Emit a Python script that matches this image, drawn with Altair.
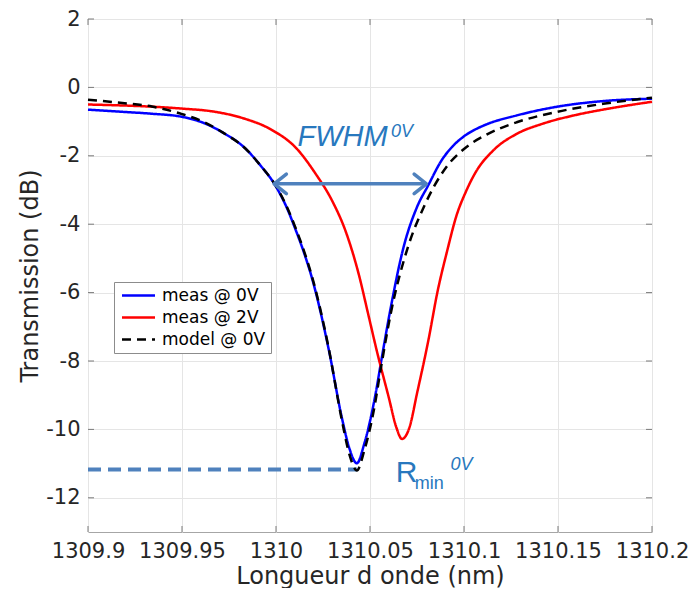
import altair as alt
import pandas as pd

# ---- data ----
blue_x = [1309.900, 1309.917, 1309.934, 1309.950, 1309.962, 1309.972, 1309.983, 1309.992,
          1309.999, 1310.006, 1310.010, 1310.015, 1310.019, 1310.028, 1310.035, 1310.039,
          1310.043, 1310.047, 1310.053, 1310.056, 1310.061, 1310.068, 1310.075, 1310.081,
          1310.088, 1310.094, 1310.100, 1310.106, 1310.112, 1310.128, 1310.149, 1310.174,
          1310.200]
blue_y = [-0.65, -0.71, -0.77, -0.86, -1.05, -1.33, -1.75, -2.30,
          -2.81, -3.55, -4.10, -4.85, -5.55, -7.65, -9.65, -10.55,
          -10.99, -10.41, -8.95, -7.99, -6.45, -4.64, -3.50, -2.86,
          -2.14, -1.72, -1.43, -1.23, -1.08, -0.82, -0.57, -0.40,
          -0.33]

red_x = [1309.900, 1309.950, 1309.966, 1309.983, 1309.997, 1310.011, 1310.021, 1310.030,
         1310.037, 1310.044, 1310.049, 1310.054, 1310.060, 1310.064, 1310.067, 1310.071,
         1310.075, 1310.081, 1310.086, 1310.091, 1310.096, 1310.101, 1310.106, 1310.116,
         1310.128, 1310.142, 1310.160, 1310.177, 1310.200]
red_y = [-0.50, -0.62, -0.70, -0.91, -1.22, -1.79, -2.52, -3.33,
         -4.20, -5.46, -6.62, -7.79, -9.07, -9.94, -10.28, -9.94,
         -8.95, -7.41, -5.95, -4.79, -3.75, -3.05, -2.50, -1.82,
         -1.36, -1.06, -0.80, -0.62, -0.42]

model_x = [1309.900, 1309.917, 1309.934, 1309.950, 1309.962, 1309.972, 1309.983, 1309.992,
           1309.999, 1310.006, 1310.010, 1310.015, 1310.019, 1310.028, 1310.035, 1310.039,
           1310.043, 1310.047, 1310.052, 1310.056, 1310.061, 1310.070, 1310.079, 1310.084,
           1310.091, 1310.100, 1310.112, 1310.128, 1310.149, 1310.174, 1310.200]
model_y = [-0.36, -0.45, -0.56, -0.78, -1.02, -1.33, -1.75, -2.30,
           -2.80, -3.52, -4.05, -4.80, -5.50, -7.62, -9.72, -10.72,
           -11.20, -10.61, -9.45, -8.14, -6.62, -4.70, -3.45, -2.90,
           -2.30, -1.80, -1.38, -1.02, -0.72, -0.48, -0.30]

series_names = ["meas @ 0V", "meas @ 2V", "model @ 0V"]
series_colors = ["#0000FF", "#FF0000", "#000000"]
series_dash = [[1, 0], [1, 0], [9, 6]]

x_ticks = [1309.9, 1309.95, 1310, 1310.05, 1310.1, 1310.15, 1310.2]
y_ticks = [-12, -10, -8, -6, -4, -2, 0, 2]

fwhm_x = [1309.999, 1310.080]
fwhm_y = -2.82
rmin_x = [1309.900, 1310.043]
rmin_y = -11.17

# ---- build tables ----
rows = []
for name, xs, ys in zip(series_names, [blue_x, red_x, model_x], [blue_y, red_y, model_y]):
    for i, (a, b) in enumerate(zip(xs, ys)):
        rows.append({"series": name, "x": a, "y": b, "i": i})
df = pd.DataFrame(rows)

W, H = 564, 513
XD = [1309.9, 1310.2]
YD = [-13, 2]
xs_ = alt.Scale(domain=XD, nice=False, zero=False)
ys_ = alt.Scale(domain=YD, nice=False, zero=False)
FONT = "DejaVu Sans"
ANN = "#2878BE"
ARROW = "#4F81BD"

lines = alt.Chart(df).mark_line(strokeWidth=2.5, interpolate="monotone").encode(
    x=alt.X("x:Q", scale=xs_,
            axis=alt.Axis(values=x_ticks, labelExpr="'' + datum.value", grid=True,
                          title="Longueur d onde (nm)", titleX=W / 2, titleY=44,
                          titleBaseline="middle", titleAlign="center")),
    y=alt.Y("y:Q", scale=ys_,
            axis=alt.Axis(values=y_ticks, labelExpr="'' + datum.value", grid=True,
                          title="Transmission (dB)", titleX=-58, titleY=H / 2, titleAngle=270,
                          titleBaseline="middle", titleAlign="center")),
    color=alt.Color("series:N", scale=alt.Scale(domain=series_names, range=series_colors),
                    legend=alt.Legend(title=None, orient="none", legendX=26, legendY=263,
                                      symbolType="M-3,0L3,0", symbolSize=121,
                                      symbolStrokeWidth=2.5, symbolOffset=11,
                                      labelFontSize=17, labelFont=FONT, labelColor="#000000",
                                      labelOffset=15, padding=5, rowPadding=4,
                                      strokeColor="#8C8C8C", fillColor="#FFFFFF")),
    strokeDash=alt.StrokeDash("series:N", scale=alt.Scale(domain=series_names, range=series_dash),
                              legend=None),
    order="i:Q",
)

# inward ticks on all four sides
ytk = pd.DataFrame({"v": y_ticks})
xtk = pd.DataFrame({"v": x_ticks})
tk_left = alt.Chart(ytk).mark_rule(color="#7A7A7A", strokeWidth=1).encode(
    y=alt.Y("v:Q", scale=ys_), x=alt.value(0), x2=alt.value(6))
tk_right = alt.Chart(ytk).mark_rule(color="#7A7A7A", strokeWidth=1).encode(
    y=alt.Y("v:Q", scale=ys_), x=alt.value(W), x2=alt.value(W - 6))
tk_bot = alt.Chart(xtk).mark_rule(color="#7A7A7A", strokeWidth=1).encode(
    x=alt.X("v:Q", scale=xs_), y=alt.value(H), y2=alt.value(H - 6))
tk_top = alt.Chart(xtk).mark_rule(color="#7A7A7A", strokeWidth=1).encode(
    x=alt.X("v:Q", scale=xs_), y=alt.value(0), y2=alt.value(6))

# Rmin dashed line
rmin_df = pd.DataFrame({"x": [rmin_x[0]], "x2": [rmin_x[1]], "y": [rmin_y]})
rmin_line = alt.Chart(rmin_df).mark_rule(color=ARROW, strokeWidth=4, strokeDash=[13, 7]).encode(
    x=alt.X("x:Q", scale=xs_), x2="x2:Q", y=alt.Y("y:Q", scale=ys_))

# FWHM arrow
fw_df = pd.DataFrame({"x": [fwhm_x[0]], "x2": [fwhm_x[1]], "y": [fwhm_y]})
fw_line = alt.Chart(fw_df).mark_rule(color=ARROW, strokeWidth=3.5).encode(
    x=alt.X("x:Q", scale=xs_), x2="x2:Q", y=alt.Y("y:Q", scale=ys_))
head_l = alt.Chart(pd.DataFrame({"x": [fwhm_x[0]], "y": [fwhm_y]})).mark_point(
    shape="M1,-0.8L0,0L1,0.8", filled=False, stroke=ARROW, strokeWidth=3.5, size=600,
    opacity=1, strokeCap="round", strokeJoin="round").encode(
    x=alt.X("x:Q", scale=xs_), y=alt.Y("y:Q", scale=ys_))
head_r = alt.Chart(pd.DataFrame({"x": [fwhm_x[1]], "y": [fwhm_y]})).mark_point(
    shape="M-1,-0.8L0,0L-1,0.8", filled=False, stroke=ARROW, strokeWidth=3.5, size=600,
    opacity=1, strokeCap="round", strokeJoin="round").encode(
    x=alt.X("x:Q", scale=xs_), y=alt.Y("y:Q", scale=ys_))

# text annotations
def txt(x, y, s, size, italic):
    return alt.Chart(pd.DataFrame({"x": [x], "y": [y], "t": [s]})).mark_text(
        align="left", baseline="alphabetic", font="Liberation Sans", fontSize=size,
        fontStyle="italic" if italic else "normal", color=ANN).encode(
        x=alt.X("x:Q", scale=xs_), y=alt.Y("y:Q", scale=ys_), text="t:N")

t1 = txt(1310.0114, -1.728, "FWHM", 29, True)
t2 = txt(1310.0612, -1.437, "0V", 18, True)
t3 = txt(1310.0637, -11.545, "R", 30, False)
t4 = txt(1310.0738, -11.749, "min", 18, False)
t5 = txt(1310.0928, -11.196, "0V", 18, True)

chart = alt.layer(
    tk_left, tk_right, tk_bot, tk_top, rmin_line, lines, fw_line, head_l, head_r,
    t1, t2, t3, t4, t5
).properties(
    width=W, height=H,
    autosize=alt.AutoSizeParams(type="none"),
    padding={"left": 80, "top": 11, "right": 36, "bottom": 56},
).configure_view(
    stroke="#A6A6A6", strokeWidth=1
).configure_axis(
    domain=False, ticks=False, tickSize=0, grid=True, gridColor="#E5E5E5", gridWidth=1,
    labelFont=FONT, labelFontSize=21, labelColor="#262626", labelPadding=8,
    labelFlush=False, labelOverlap=False, labelBound=False,
    titleFont=FONT, titleFontSize=24, titleFontWeight="normal", titleColor="#262626",
)

chart.save("out.html", embed_options={"renderer": "svg", "actions": False})
